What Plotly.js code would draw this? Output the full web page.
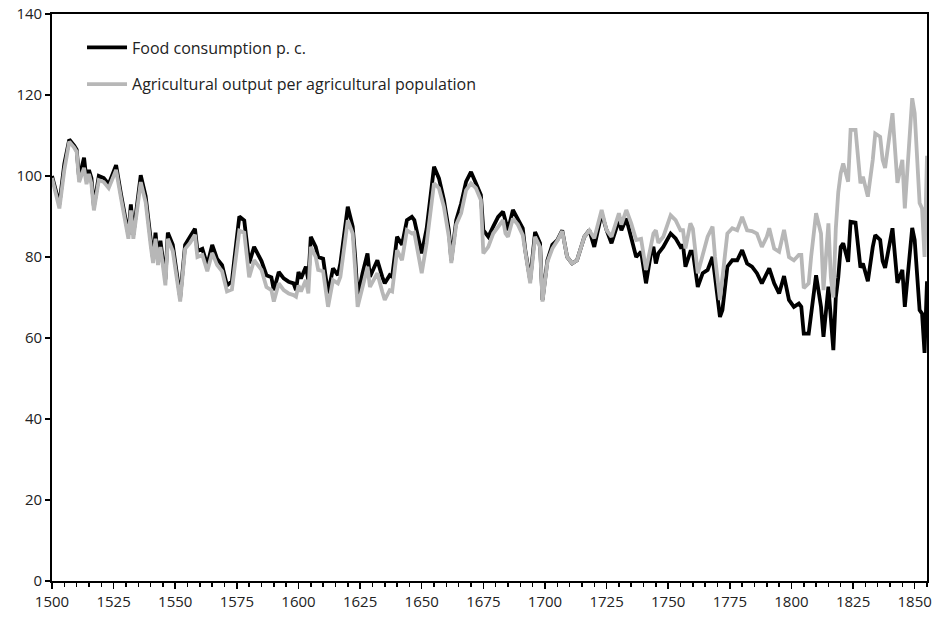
<!DOCTYPE html>
<html>
<head>
<meta charset="utf-8">
<script src="https://cdn.plot.ly/plotly-3.0.1.min.js"></script>
<style>html,body{margin:0;padding:0;background:#fff;}#chart{width:936px;height:617px;}</style>
</head>
<body>
<div id="chart"></div>
<script>
const years = [1500,1503,1505,1507,1509,1510,1511,1513,1514,1515,1516,1517,1519,1521,1523,1526,1528,1530,1531,1532,1533,1536,1538,1540,1541,1542,1543,1544,1546,1547,1549,1552,1554,1556,1558,1559,1561,1563,1565,1567,1569,1571,1573,1574,1576,1578,1580,1582,1585,1587,1589,1590,1592,1594,1596,1598,1599,1600,1601,1603,1604,1605,1607,1608,1610,1612,1614,1616,1617,1620,1622,1623,1624,1626,1628,1629,1632,1634,1635,1637,1638,1640,1642,1644,1646,1647,1650,1652,1655,1657,1659,1661,1662,1664,1666,1668,1670,1672,1674,1675,1677,1679,1681,1683,1684,1685,1687,1689,1691,1692,1694,1696,1698,1699,1701,1703,1705,1707,1709,1711,1713,1716,1718,1720,1723,1725,1727,1730,1731,1733,1735,1737,1739,1741,1743,1744,1745,1746,1748,1751,1753,1755,1756,1757,1759,1760,1762,1764,1766,1768,1769,1771,1772,1774,1776,1778,1780,1782,1784,1786,1788,1790,1791,1793,1795,1797,1799,1801,1803,1804,1805,1807,1808,1810,1812,1813,1815,1816,1817,1818,1819,1820,1821,1823,1824,1826,1828,1829,1831,1833,1834,1836,1837,1838,1841,1843,1845,1846,1849,1850,1852,1853,1854,1855];

const foodConsumption = [100,93,103,109,107.5,106.5,99.5,104.5,99,101.5,99.5,92.5,100,99.5,98,102.7,95.5,89.5,85.5,93,85.5,100.2,95,84.5,79.5,86,79.5,84,74.5,86,83,70,83,85,87,81.5,82,78,83,79.5,78,73,74,79.5,90,89,78.5,82.5,79,75.5,75,71.8,76.3,74.7,73.9,73.5,71.8,76.3,74.7,77.6,74.3,85,82.5,80,79.6,71,77.2,75.5,78.4,92.4,87.5,80,70.2,76,80.9,75.1,79.2,75.1,73.5,75.5,75.1,85,83,89.1,89.9,89.1,80.9,87,102.3,99.4,94.1,86.6,79.2,89.1,93.2,98.6,101,98.2,95.3,86.6,85,87.5,89.9,91.2,89.1,86.6,91.6,89.1,87.1,81.7,74.3,86.2,83.4,69.4,79.2,83,84.2,86.6,80,78.4,79.2,85,86.6,82.5,90.8,86.6,83.4,89.1,86.6,89.5,85,80,81.3,73.5,80.9,82.5,78.4,80.9,82.5,85.8,84.6,82.5,83,77.6,81.3,81.3,72.6,76,76.8,80,75.1,65.2,66.9,77.6,79.2,79.2,81.7,78.4,77.6,76,73.5,76,77.2,73.5,71,75.3,69.4,67.7,68.5,67.7,61.1,61.1,66.1,75.5,67.7,60.3,72.7,66,57,70,75,82.5,83.4,78.8,88.7,88.5,77.4,78.4,74,82.5,85.4,84.2,79,77.3,87.1,73.6,76.8,67.7,87.2,84.2,66.9,66,56.3,74];

const agriOutput = [99.5,92,101.5,108.5,107,106,98.5,102,98,100.5,98,91.5,99,98.5,97,101.5,94.5,88.5,84.5,91.5,84.5,98.5,93.5,83,78.5,84.5,78,82.5,73,84.5,81.5,69,82,83.5,85.5,80,80.5,76.5,81,78,76.5,71.5,72,77,86.5,86,75,79.2,76.8,72.6,71.8,69,73.5,71.8,71,70.6,70.2,73,71.5,74.3,71,82.5,80,76.8,76.5,67.7,74.3,73.5,75.1,89.1,85.8,77,67.7,72.6,77.6,72.6,76,71.4,69.4,71.8,71.5,81.7,79.2,86.6,85.8,86,76,83.4,98.2,97,92.4,85,78.5,88,90.8,96.5,98.2,97,94.1,80.9,82.5,85.8,87.5,89.1,85.8,85,89.5,88,85.4,81,73.5,85,82.5,69,78.8,82.1,84,86.4,80,78.4,79.2,85,86.6,84.6,91.6,86.6,85,90.8,88,91.6,88.3,84.2,84.5,76.8,83.4,85.8,86.6,83.5,85,90.3,89.1,86.6,86.6,82.1,88.3,87,76,80.9,85,87.5,80,69.4,75,85.8,87.1,86.6,89.9,86.6,86.4,85.8,82.5,85,87.1,82.1,81.3,86.7,80,79.2,80.5,80.5,72.3,73.5,80.1,90.8,85.8,71.8,88.3,75,70,87,96,100.7,103.1,98.6,111.4,111.4,98.2,99.8,94.9,104,110.5,109.7,104,102,115.5,98.3,104,92,119.2,115.5,93.3,92,80,105];

const seriesNames = ["Food consumption p. c.", "Agricultural output per agricultural population"];
const xTickVals = [1500,1525,1550,1575,1600,1625,1650,1675,1700,1725,1750,1775,1800,1825,1850];
const yTickVals = [0,20,40,60,80,100,120,140];

const font = "'Open Sans', Lato, 'Liberation Sans', sans-serif";

const traces = [
  {x: years, y: foodConsumption, type: "scatter", mode: "lines", name: seriesNames[0],
   legendgroup: "a", line: {color: "#000000", width: 3.8}},
  {x: years, y: agriOutput, type: "scatter", mode: "lines", name: seriesNames[1],
   legendgroup: "b", line: {color: "#b7b7b7", width: 3.8}}
];

const layout = {
  width: 936, height: 617,
  margin: {l: 52, r: 9, t: 14, b: 36},
  paper_bgcolor: "#fff", plot_bgcolor: "#fff",
  font: {family: font, size: 14, color: "#222"},
  showlegend: true,
  legend: {x: 0.0343, y: 0.971, xanchor: "left", yanchor: "top", bgcolor: "rgba(0,0,0,0)",
           itemwidth: 40,
           font: {family: font, size: 16, color: "#222"}, tracegroupgap: 13, traceorder: "grouped"},
  xaxis: {range: [1500, 1855], tickvals: xTickVals, ticks: "outside", ticklen: 6, tickwidth: 1.5,
          tickcolor: "#000", showline: true, linecolor: "#000", linewidth: 1.8, mirror: true,
          showgrid: false, zeroline: false, fixedrange: true,
          minor: {dtick: 5, tick0: 1500, ticks: "outside", ticklen: 4, tickwidth: 1.5, tickcolor: "#000"},
          tickfont: {family: font, size: 15, color: "#222"}},
  yaxis: {range: [0, 140], tickvals: yTickVals, ticks: "outside", ticklen: 5, tickwidth: 1.5,
          tickcolor: "#000", showline: true, linecolor: "#000", linewidth: 1.8, mirror: true,
          showgrid: false, zeroline: false, fixedrange: true,
          tickfont: {family: font, size: 15, color: "#222"}}
};

Plotly.newPlot("chart", traces, layout, {staticPlot: true, displayModeBar: false});
</script>
</body>
</html>
